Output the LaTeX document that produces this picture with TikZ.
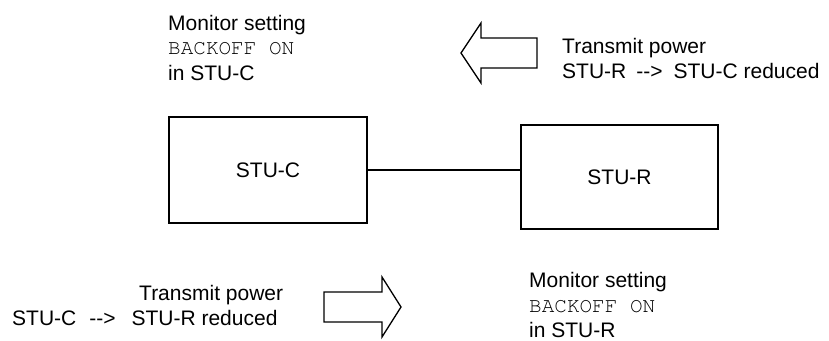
\documentclass[tikz,border=0pt]{standalone}
\usepackage{fontspec}
\setmainfont{Liberation Sans}
\newfontfamily\courierlike{texgyrecursor-regular.otf}
\begin{document}
\begin{tikzpicture}[x=1pt,y=-1pt,
  txt/.style={inner sep=0pt, anchor=base west, font=\fontsize{21}{25}\selectfont},
  mono/.style={inner sep=0pt, anchor=base west, font=\fontsize{21}{25}\selectfont\courierlike, text=black},
  unitbox/.style={draw, line width=1.3pt, inner sep=0pt, font=\fontsize{21}{25}\selectfont},
  fatarrow/.style={draw, line width=1.3pt, line join=miter},
  link/.style={draw, line width=1.3pt}]
\useasboundingbox (0,0) rectangle (829,340);
% units
\node[unitbox, minimum width=198pt, minimum height=106pt] (stuc) at (268,170) {STU-C};
\node[unitbox, minimum width=197pt, minimum height=104pt] (stur) at (619.5,177) {STU-R};
\draw[link] (stuc.east) -- (stuc.east -| stur.west);
% block arrows
\draw[fatarrow] (537,38) -- (481,38) -- (481,23) -- (461,53) -- (481,83) -- (481,68) -- (537,68) -- cycle;
\draw[fatarrow] (324,292) -- (382,292) -- (382,277) -- (401,307) -- (382,337) -- (382,322) -- (324,322) -- cycle;
% top left text
\node[txt] (mon1a) at (168,30) {Monitor setting};
\node[mono] (mon1b) at (168,54.5) {BACKOFF ON};
\node[txt] (mon1c) at (168,80) {in STU-C};
% top right text
\node[txt] (tx1a) at (562,53) {Transmit power};
\node[txt] (tx1b) at (562,78) {STU-R\hspace{10pt}-{}-{}>\hspace{11pt}STU-C reduced};
% bottom left text
\node[txt] (tx2a) at (139,300) {Transmit power};
\node[txt] (tx2b) at (12,325) {STU-C\hspace{13pt}-{}-{}>\hspace{16pt}STU-R reduced};
% bottom right text
\node[txt] (mon2a) at (529,287) {Monitor setting};
\node[mono] (mon2b) at (529,312) {BACKOFF ON};
\node[txt] (mon2c) at (529,337) {in STU-R};
\end{tikzpicture}
\end{document}
